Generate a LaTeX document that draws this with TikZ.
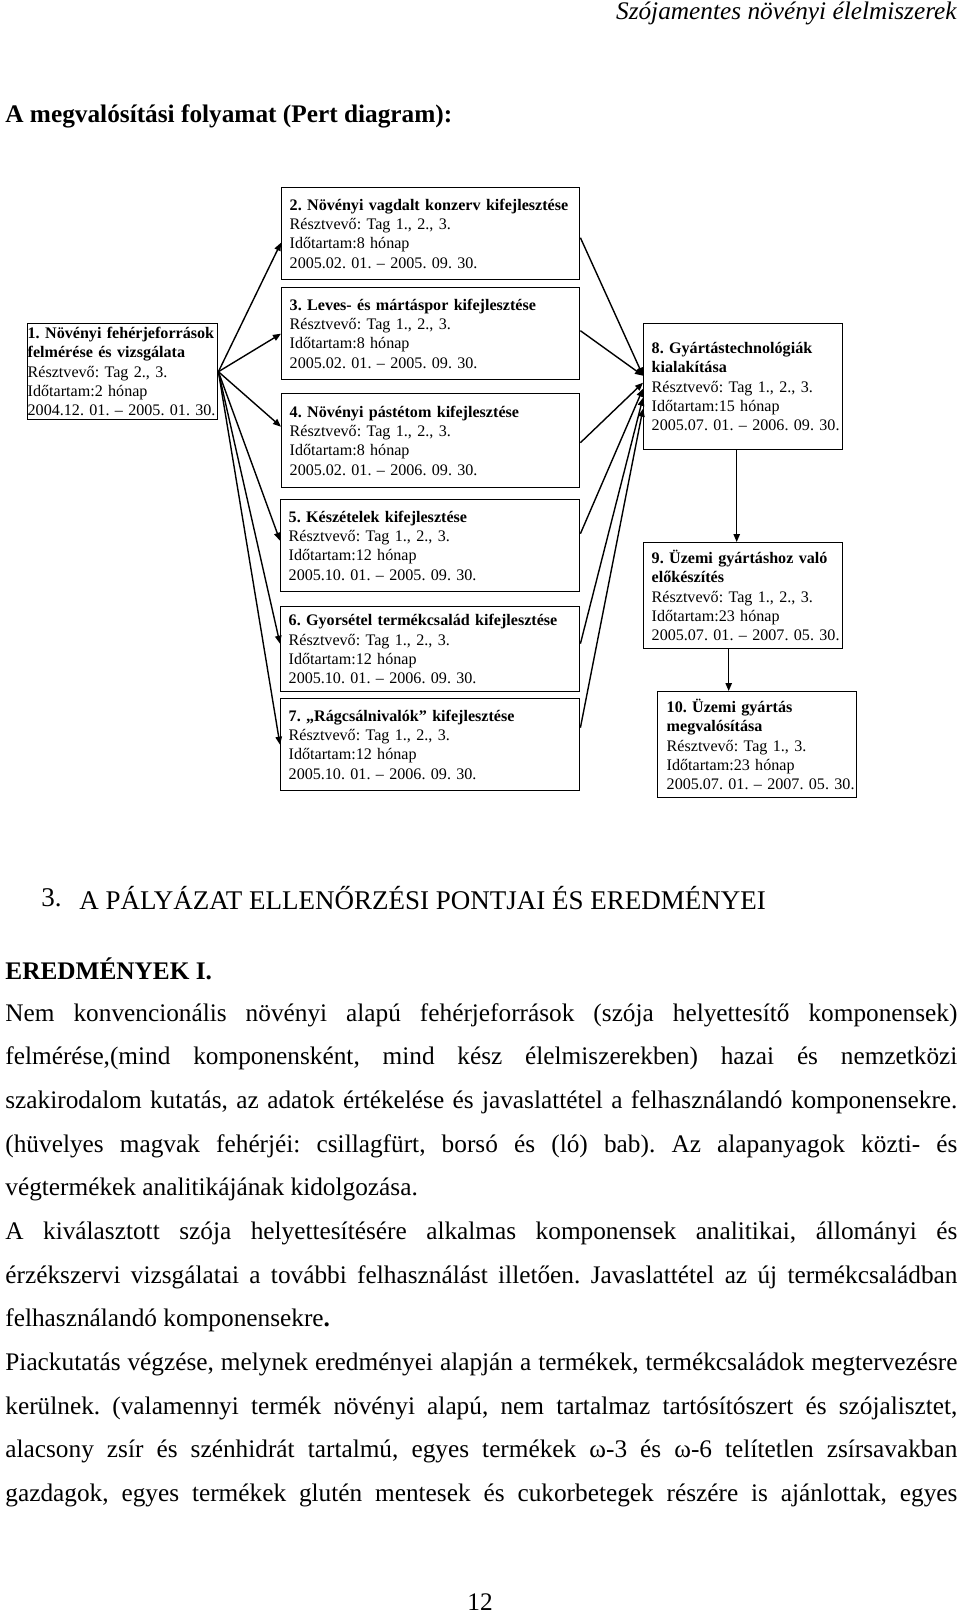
\documentclass[tikz,border=0pt]{standalone}
\usepackage{fontspec}
\setmainfont{Liberation Serif}
\usetikzlibrary{arrows.meta,calc}
\hyphenpenalty=10000
\exhyphenpenalty=10000
\newcommand\dgf{\fontsize{8.05}{9.65}\selectfont}
\newcommand\bdf{\fontsize{12.65}{15}\selectfont}
\newlength\bw \setlength\bw{476pt}
\newcommand\jl[1]{\makebox[\bw][s]{#1}}
\newcommand\ml[1]{\mbox{#1}}
\begin{document}
\frenchspacing
\begin{tikzpicture}[x=0.5pt,y=-0.5pt,
  pbox/.style={draw, line width=0.7pt, anchor=north west, align=left, inner xsep=4pt, inner ysep=0pt, font=\dgf\frenchspacing},
  arr/.style={line width=0.7pt, -{Triangle[length=4pt,width=3.2pt]}},
  bt/.style={anchor=base west, inner sep=0pt, font=\bdf\frenchspacing},
  plain/.style={inner sep=0pt, font=\bdf\frenchspacing}]
\useasboundingbox (0,0) rectangle (960,1613);

% header texts
\node[plain, anchor=east, font=\bdf\itshape] (hdr) at (957,13) {Szójamentes növényi élelmiszerek};
\node[plain, anchor=west, font=\bdf\bfseries] (ttl) at (5,116) {A megvalósítási folyamat (Pert diagram):};

% boxes
\node[pbox, inner xsep=0pt, text width=95pt, minimum height=48pt] (n1) at (27,323)
  {\ml{\textbf{1. Növényi fehérjeforrások}}\\\ml{\textbf{felmérése és vizsgálata}}\\\ml{Résztvevő: Tag 2., 3.}\\\ml{Időtartam:2 hónap}\\\ml{2004.12. 01. – 2005. 01. 30.}};
\node[pbox, text width=141pt, minimum height=46pt] (n2) at (281,187)
  {\ml{\textbf{2. Növényi vagdalt konzerv kifejlesztése}}\\\ml{Résztvevő: Tag 1., 2., 3.}\\\ml{Időtartam:8 hónap}\\\ml{2005.02. 01. – 2005. 09. 30.}};
\node[pbox, text width=141pt, minimum height=46pt] (n3) at (281,287)
  {\ml{\textbf{3. Leves- és mártáspor kifejlesztése}}\\\ml{Résztvevő: Tag 1., 2., 3.}\\\ml{Időtartam:8 hónap}\\\ml{2005.02. 01. – 2005. 09. 30.}};
\node[pbox, text width=141pt, minimum height=47pt] (n4) at (281,393)
  {\ml{\textbf{4. Növényi pástétom kifejlesztése}}\\\ml{Résztvevő: Tag 1., 2., 3.}\\\ml{Időtartam:8 hónap}\\\ml{2005.02. 01. – 2006. 09. 30.}};
\node[pbox, text width=141.5pt, minimum height=46pt] (n5) at (280,499)
  {\ml{\textbf{5. Készételek kifejlesztése}}\\\ml{Résztvevő: Tag 1., 2., 3.}\\\ml{Időtartam:12 hónap}\\\ml{2005.10. 01. – 2005. 09. 30.}};
\node[pbox, text width=141.5pt, minimum height=42.5pt] (n6) at (280,606)
  {\ml{\textbf{6. Gyorsétel termékcsalád kifejlesztése}}\\\ml{Résztvevő: Tag 1., 2., 3.}\\\ml{Időtartam:12 hónap}\\\ml{2005.10. 01. – 2006. 09. 30.}};
\node[pbox, text width=141.5pt, minimum height=46pt] (n7) at (280,698)
  {\ml{\textbf{7. „Rágcsálnivalók” kifejlesztése}}\\\ml{Résztvevő: Tag 1., 2., 3.}\\\ml{Időtartam:12 hónap}\\\ml{2005.10. 01. – 2006. 09. 30.}};
\node[pbox, inner xsep=4pt, text width=91.5pt, minimum height=63pt] (n8) at (643,323)
  {\ml{\textbf{8. Gyártástechnológiák}}\\\ml{\textbf{kialakítása}}\\\ml{Résztvevő: Tag 1., 2., 3.}\\\ml{Időtartam:15 hónap}\\\ml{2005.07. 01. – 2006. 09. 30.}};
\node[pbox, inner xsep=4pt, text width=91.5pt, minimum height=53pt] (n9) at (643,542)
  {\ml{\textbf{9. Üzemi gyártáshoz való}}\\\ml{\textbf{előkészítés}}\\\ml{Résztvevő: Tag 1., 2., 3.}\\\ml{Időtartam:23 hónap}\\\ml{2005.07. 01. – 2007. 05. 30.}};
\node[pbox, inner xsep=4.5pt, text width=90.5pt, minimum height=53pt] (n10) at (657,691)
  {\ml{\textbf{10. Üzemi gyártás}}\\\ml{\textbf{megvalósítása}}\\\ml{Résztvevő: Tag 1., 3.}\\\ml{Időtartam:23 hónap}\\\ml{2005.07. 01. – 2007. 05. 30.}};

% connectors from 1
\draw[arr] (n1.east) -- ([yshift=-4.5pt]n2.west);
\draw[arr] (n1.east) -- (n3.west);
\draw[arr] (n1.east) -- ([yshift=7pt]n4.west);
\draw[arr] (n1.east) -- ([yshift=2.5pt]n5.west);
\draw[arr] (n1.east) -- ([yshift=2.75pt]n6.west);
\draw[arr] (n1.east) -- (n7.west);
% connectors into 8
\draw[arr] ([yshift=-2pt]n2.east) -- ([yshift=5.5pt]n8.west);
\draw[arr] ([yshift=1.5pt]n3.east) -- ([yshift=5.5pt]n8.west);
\draw[arr] ([yshift=-1pt]n4.east) -- ([yshift=2pt]n8.west);
\draw[arr] ([yshift=6pt]n5.east) -- ([yshift=-1pt]n8.west);
\draw[arr] ([yshift=2.75pt]n6.east) -- ([yshift=-5.5pt]n8.west);
\draw[arr] ([yshift=8.5pt]n7.east) -- ([yshift=-11pt]n8.west);
% 8 -> 9 -> 10
\draw[arr] ([xshift=-3.25pt]n8.south) -- ([xshift=-3.25pt]n8.south |- n9.north);
\draw[arr] ([xshift=-7.25pt]n9.south) -- ([xshift=-7.25pt]n9.south |- n10.north);

% section heading
\node[plain, anchor=west, font=\fontsize{13.5}{16}\selectfont] (secn) at (41,898) {3.};
\node[plain, anchor=west, font=\fontsize{13.5}{16}\selectfont] (sect) at (79,898) {A PÁLYÁZAT ELLENŐRZÉSI PONTJAI ÉS EREDMÉNYEI};
\node[plain, anchor=west, font=\bdf\bfseries] (ered) at (5,969) {EREDMÉNYEK I.};

% body lines
\node[bt] (b1) at (5,1021) {\jl{Nem konvencionális növényi alapú fehérjeforrások (szója helyettesítő komponensek)}};
\node[bt] (b2) at (5,1064.7) {\jl{felmérése,(mind komponensként, mind kész élelmiszerekben) hazai és nemzetközi}};
\node[bt] (b3) at (5,1108.4) {\jl{szakirodalom kutatás, az adatok értékelése és javaslattétel a felhasználandó komponensekre.}};
\node[bt] (b4) at (5,1152) {\jl{(hüvelyes magvak fehérjéi: csillagfürt, borsó és (ló) bab). Az alapanyagok közti- és}};
\node[bt] (b5) at (5,1195.7) {végtermékek analitikájának kidolgozása.};
\node[bt] (b6) at (5,1239.4) {\jl{A kiválasztott szója helyettesítésére alkalmas komponensek analitikai, állományi és}};
\node[bt] (b7) at (5,1283.1) {\jl{érzékszervi vizsgálatai a további felhasználást illetően. Javaslattétel az új termékcsaládban}};
\node[bt] (b8) at (5,1326.8) {felhasználandó komponensekre\textbf{.}};
\node[bt] (b9) at (5,1370.5) {\jl{Piackutatás végzése, melynek eredményei alapján a termékek, termékcsaládok megtervezésre}};
\node[bt] (b10) at (5,1414.2) {\jl{kerülnek. (valamennyi termék növényi alapú, nem tartalmaz tartósítószert és szójalisztet,}};
\node[bt] (b11) at (5,1457.9) {\jl{alacsony zsír és szénhidrát tartalmú, egyes termékek ω-3 és ω-6 telítetlen zsírsavakban}};
\node[bt] (b12) at (5,1501.6) {\jl{gazdagok, egyes termékek glutén mentesek és cukorbetegek részére is ajánlottak, egyes}};

\node[plain] (pg) at (480,1602) {12};
\end{tikzpicture}
\end{document}
